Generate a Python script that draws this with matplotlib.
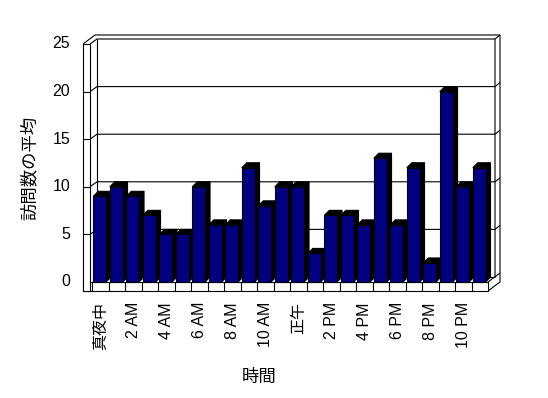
import matplotlib
matplotlib.use('Agg')
import matplotlib.pyplot as plt
from matplotlib.patches import Polygon, Rectangle

# data
hours = ['真夜中', '1 AM', '2 AM', '3 AM', '4 AM', '5 AM', '6 AM', '7 AM',
         '8 AM', '9 AM', '10 AM', '11 AM', '正午', '1 PM', '2 PM', '3 PM',
         '4 PM', '5 PM', '6 PM', '7 PM', '8 PM', '9 PM', '10 PM', '11 PM']
visits = [9, 10, 9, 7, 5, 5, 10, 6, 6, 12, 8, 10,
          10, 3, 7, 7, 6, 13, 6, 12, 2, 20, 10, 12]
yticks = [0, 5, 10, 15, 20, 25]

# pixel layout of the fake 3d box
X0, CW = 92, 16.5     # px of first category, px per category
Y0, YS = 282, 9.52    # px of value 0, px per unit
N = len(visits)
YMAX = yticks[-1]

fig = plt.figure(figsize=(5.48, 3.98), dpi=100)
ax = fig.add_axes([0, 0, 1, 1])
ax.set_xlim(-X0 / CW, (548 - X0) / CW)
ax.set_ylim((Y0 - 398) / YS, Y0 / YS)
ax.axis('off')

Wx, Wy = 7 / CW, 5 / YS      # back wall inner face
Ox, Oy = 12 / CW, 9 / YS     # back wall outer face
Bx, By = 5 / CW, 5 / YS      # bar depth
xL = (83 - X0) / CW          # left wall front
xi = (90 - X0) / CW          # left wall inner
fb = -9 / YS                 # floor bottom

LW = 0.8

def line(xs, ys, z=2):
    ax.plot(xs, ys, color='black', lw=LW, zorder=z, solid_capstyle='butt')

# walls
line([xL, xL + Ox, N + Ox, N + Ox, N], [YMAX, YMAX + Oy, YMAX + Oy, fb + Oy, fb])
line([xi, xi + Wx, N + Wx, N + Wx], [YMAX, YMAX + Wy, YMAX + Wy, Wy])
line([N + Wx, N + Ox], [YMAX + Wy, YMAX + Oy])
line([xi + Wx, xi + Wx], [YMAX + Wy, Wy])
line([xi + Wx, N + Wx], [Wy, Wy])
line([N, N + Ox], [0, Oy])

for v in yticks[1:-1]:
    line([xL, xi, xi + Wx, N + Wx, N + Ox], [v, v, v + Wy, v + Wy, v + Oy])

# floor front face
ax.add_patch(Rectangle((xL, fb), N - xL, -fb, fc='white', ec='black', lw=LW, zorder=3))
for i in range(N):
    line([i, i], [fb, 0], z=3)
# left wall front face
ax.add_patch(Rectangle((xL, fb), xi - xL, YMAX - fb, fc='white', ec='black', lw=LW, zorder=4))
for v in yticks[1:-1]:
    line([xL, xi], [v, v], z=4)

# bars
for i, v in enumerate(visits):
    x0, x1 = i + 0.08, i + 0.85
    z = 10 + i
    ax.add_patch(Polygon([(x1, 0), (x1, v), (x1 + Bx, v + By), (x1 + Bx, By)],
                         closed=True, fc='black', ec='black', lw=LW, zorder=z))
    ax.add_patch(Polygon([(x0, v), (x1, v), (x1 + Bx, v + By), (x0 + Bx, v + By)],
                         closed=True, fc='black', ec='black', lw=LW, zorder=z))
    ax.add_patch(Rectangle((x0, 0), x1 - x0, v, fc='#000080', ec='black', lw=LW, zorder=z))

fam = ['Liberation Sans', 'Noto Sans CJK JP']
for v in yticks:
    ax.text((70 - X0) / CW, v, str(v), ha='right', va='center', fontsize=11.5, family=fam)

for i in range(0, N, 2):
    ax.text(i + 0.5, (Y0 - 302) / YS, hours[i], rotation=90, ha='center', va='top',
            fontsize=11.5, family=fam)

ax.text((30 - X0) / CW, (Y0 - 168) / YS, '訪問数の平均', rotation=90, ha='center', va='center',
        fontsize=12.5, family='Noto Sans CJK JP')
ax.text((259 - X0) / CW, (Y0 - 377) / YS, '時間', ha='center', va='center',
        fontsize=12.5, family='Noto Sans CJK JP')

fig.savefig('out.png', dpi=100)
